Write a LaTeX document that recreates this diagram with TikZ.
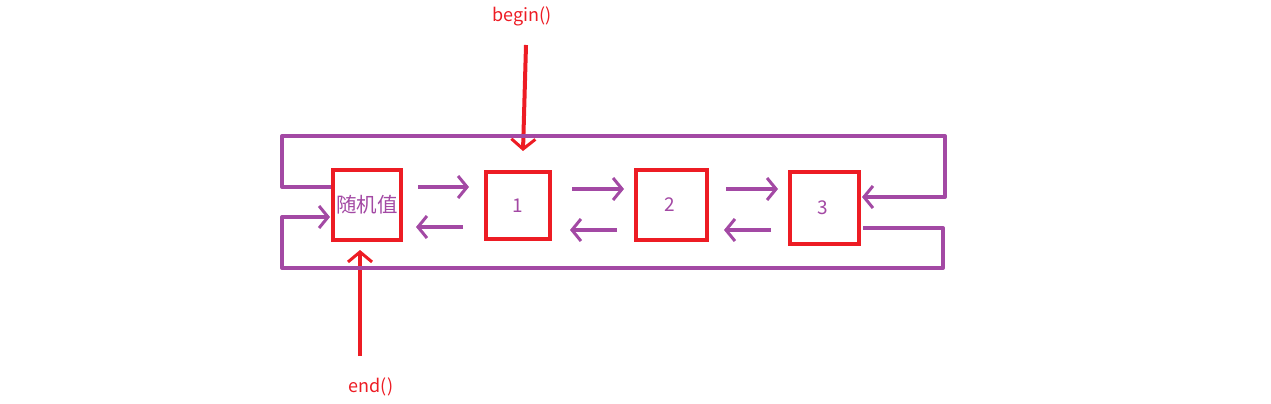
\documentclass[tikz,border=0pt]{standalone}
\usepackage{fontspec}
\setmainfont{Noto Sans CJK SC}
\usetikzlibrary{arrows.meta}
\definecolor{pp}{HTML}{A349A4}
\definecolor{rd}{HTML}{ED1C24}
\tikzset{
  box/.style={draw=rd,line width=4pt,inner sep=0pt,text=pp,font=\fontsize{19}{19}\selectfont},
  pline/.style={draw=pp,line width=4pt},
  parrow/.style={pline,-{Straight Barb[length=9pt,width=22pt,line width=3pt]}},
  rarrow/.style={draw=rd,line width=4pt,-{Straight Barb[length=10pt,width=24pt,line width=3pt]}},
  lbl/.style={text=rd,font=\fontsize{18}{18}\selectfont,inner sep=0pt}
}
\begin{document}
\begin{tikzpicture}[x=1pt,y=-1pt]
\useasboundingbox (0,0) rectangle (1271,404);
% boxes
\node[box,minimum width=68pt,minimum height=70pt] (b0) at (367,204.5) {\fontsize{20.5}{20.5}\selectfont 随机值};
\node[box,minimum width=64pt,minimum height=67pt] (b1) at (518,205.5) {\raisebox{-2pt}{1}};
\node[box,minimum width=71pt,minimum height=70pt] (b2) at (671.5,205) {\hspace{-4pt}\raisebox{-4pt}{2}};
\node[box,minimum width=69pt,minimum height=72pt] (b3) at (824.5,208) {\hspace{-4pt}3};
% labels
\node[lbl] (beg) at (522,16) {begin()};
\node[lbl] (endl) at (371,387) {end()};
% free ends
\coordinate (bs) at (526,45);
\coordinate (bt) at (523,151);
\coordinate (es) at (360,356);
\coordinate (et) at (360,250);
\draw[rarrow] (bs) -- (bt);
\draw[rarrow] (es) -- (et);
% forward / backward arrows
\coordinate (f0s) at (418,187); \coordinate (f0t) at (469,187);
\coordinate (r0s) at (463,227); \coordinate (r0t) at (416,227);
\coordinate (f1s) at (572,189); \coordinate (f1t) at (624,189);
\coordinate (r1s) at (617,230); \coordinate (r1t) at (570,230);
\coordinate (f2s) at (726,189); \coordinate (f2t) at (778,189);
\coordinate (r2s) at (771,230); \coordinate (r2t) at (724,230);
\draw[parrow] (f0s) -- (f0t);
\draw[parrow] (r0s) -- (r0t);
\draw[parrow] (f1s) -- (f1t);
\draw[parrow] (r1s) -- (r1t);
\draw[parrow] (f2s) -- (f2t);
\draw[parrow] (r2s) -- (r2t);
% top loop
\coordinate (ta) at (331,187);
\coordinate (tb) at (282,187);
\coordinate (tc) at (282,136);
\coordinate (td) at (945,136);
\coordinate (te) at (945,197);
\coordinate (tf) at (862,197);
\draw[parrow,line join=round] (ta) -- (tb) -- (tc) -- (td) -- (te) -- (tf);
% bottom loop
\coordinate (ua) at (863,228);
\coordinate (ub) at (943,228);
\coordinate (uc) at (943,268);
\coordinate (ud) at (282,268);
\coordinate (ue) at (282,217);
\coordinate (uf) at (330,217);
\draw[parrow,line join=round] (ua) -- (ub) -- (uc) -- (ud) -- (ue) -- (uf);
\end{tikzpicture}
\end{document}
